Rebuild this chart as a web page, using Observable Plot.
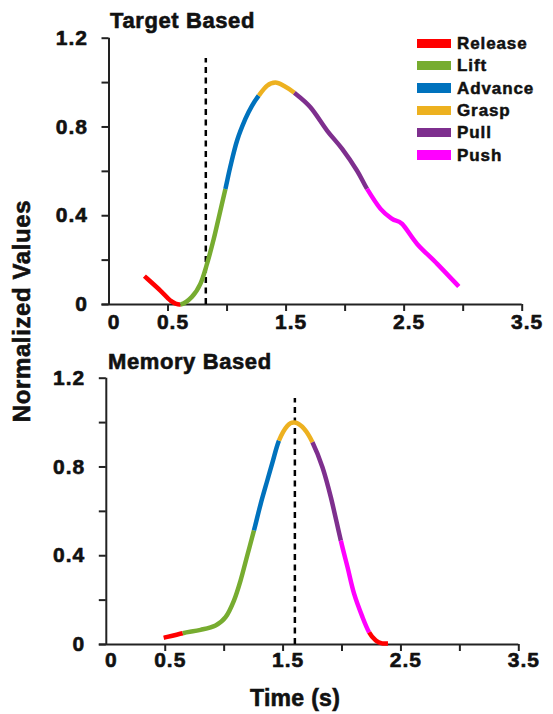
<!DOCTYPE html>
<html><head><meta charset="utf-8">
<script src="https://cdn.jsdelivr.net/npm/d3@7"></script>
<script src="https://cdn.jsdelivr.net/npm/@observablehq/plot@0.6"></script>
<style>
body{margin:0;background:#fff;}
#chart{position:relative;width:553px;height:714px;overflow:hidden;font-family:Arial,"Liberation Sans",Helvetica,sans-serif;font-weight:bold;color:#111;}
#chart svg{position:absolute;left:0;overflow:visible;}
.lbl{position:absolute;white-space:nowrap;line-height:1;-webkit-text-stroke:0.6px #111;}
</style></head><body><div id="chart"></div>
<script>
// ---- data ----
const phases = ["Release", "Lift", "Advance", "Grasp", "Pull", "Push"];
const phaseColors = ["#FF0000", "#77AC30", "#0072BD", "#EDB120", "#7E2F8E", "#FF00FF"];

const targetTitle = "Target Based";
const targetTime  = [0.30,0.435,0.52,0.605, 0.605,0.70,0.774,0.83,0.887,0.929,0.986, 0.986,1.028,1.085,1.155,1.212,1.268, 1.268,1.339,1.409,1.48,1.57, 1.57,1.706,1.847,1.975,2.10,2.186, 2.186,2.30,2.398,2.483,2.61,2.78,2.963];
const targetValue = [0.128,0.063,0.018,0.0, 0.0,0.033,0.093,0.183,0.295,0.39,0.521, 0.521,0.622,0.739,0.836,0.896,0.941, 0.941,0.986,1.0,0.986,0.954, 0.954,0.889,0.784,0.701,0.604,0.521, 0.521,0.431,0.386,0.363,0.273,0.183,0.081];
const targetPhase = ["Release","Release","Release","Release", "Lift","Lift","Lift","Lift","Lift","Lift","Lift", "Advance","Advance","Advance","Advance","Advance","Advance", "Grasp","Grasp","Grasp","Grasp","Grasp", "Pull","Pull","Pull","Pull","Pull","Pull", "Push","Push","Push","Push","Push","Push","Push"];
const targetCue = 0.82;

const memoryTitle = "Memory Based";
const memoryTime  = [0.487,0.649, 0.649,0.80,0.927,1.012,1.083,1.139,1.196,1.253, 1.253,1.31,1.366,1.41,1.465, 1.465,1.537,1.6,1.678,1.749, 1.749,1.834,1.905,1.99, 1.99,2.047,2.103,2.174,2.23, 2.23,2.287,2.34,2.39];
const memoryValue = [0.030,0.051, 0.051,0.066,0.086,0.123,0.198,0.288,0.401,0.514, 0.514,0.634,0.739,0.821,0.919, 0.919,0.986,1.0,0.972,0.911, 0.911,0.799,0.664,0.468, 0.468,0.348,0.228,0.123,0.055, 0.055,0.018,0.005,0.005];
const memoryPhase = ["Release","Release", "Lift","Lift","Lift","Lift","Lift","Lift","Lift","Lift", "Advance","Advance","Advance","Advance","Advance", "Grasp","Grasp","Grasp","Grasp","Grasp", "Pull","Pull","Pull","Pull", "Push","Push","Push","Push","Push", "Release","Release","Release","Release"];
const memoryCue = 1.6;
const cueTop = 1.108;

const xTicks = [0.5, 1, 1.5, 2, 2.5, 3, 3.5];
const xTickLabels = [0, 0.5, 1.5, 2.5, 3.5];
const yTicks = [0, 0.2, 0.4, 0.6, 0.8, 1.0, 1.2];
const yTickLabels = [0, 0.4, 0.8, 1.2];
const xTitle = "Time (s)";
const yTitle = "Normalized Values";

// ---- build ----
// Each coloured segment carries its neighbouring points as control points only,
// so the smooth curve stays continuous across phase boundaries.
function rows(time, value, phase) {
  const path = [], segs = [];
  time.forEach((t, i) => {
    const last = path[path.length - 1];
    const dup = last && last.t === t && last.v === value[i];
    if (!dup) path.push({t, v: value[i]});
    const idx = path.length - 1;
    const s = segs[segs.length - 1];
    if (!s || s.phase !== phase[i]) segs.push({phase: phase[i], start: idx, end: idx});
    else s.end = idx;
  });
  const out = [];
  segs.forEach((s, k) => {
    const pts = [path[Math.max(s.start - 1, 0)]];
    if (s.start === 0) pts[0] = path[0];
    for (let j = s.start; j <= s.end; j++) pts.push(path[j]);
    pts.push(path[Math.min(s.end + 1, path.length - 1)]);
    pts.forEach(p => out.push({t: p.t, v: p.v, phase: s.phase, seg: k}));
  });
  return out;
}

function ControlEnds(context) { this._context = context; }
ControlEnds.prototype = {
  areaStart() { this._line = 0; },
  areaEnd() { this._line = NaN; },
  lineStart() { this._pts = []; },
  point(x, y) { this._pts.push([+x, +y]); },
  lineEnd() {
    const p = this._pts, c = this._context, n = p.length;
    if (n < 3) return;
    c.moveTo(p[1][0], p[1][1]);
    for (let i = 1; i < n - 2; i++) {
      const a = p[i - 1], b = p[i], d = p[i + 1], e = p[i + 2];
      c.bezierCurveTo(
        b[0] + (d[0] - a[0]) / 6, b[1] + (d[1] - a[1]) / 6,
        d[0] - (e[0] - b[0]) / 6, d[1] - (e[1] - b[1]) / 6,
        d[0], d[1]);
    }
  }
};
const controlEnds = context => new ControlEnds(context);

const FONT = 'Arial, "Liberation Sans", Helvetica, sans-serif';
const AXIS = "#222";

function panel({data, cue, height, mt, mb, ml, mr, labelDy}) {
  return Plot.plot({
    width: 553, height,
    marginTop: mt, marginBottom: mb, marginLeft: ml, marginRight: mr,
    x: {domain: [0, 3.5], label: null},
    y: {domain: [0, 1.2], label: null},
    color: {domain: phases, range: phaseColors},
    style: {fontFamily: FONT, background: "transparent", overflow: "visible", letterSpacing: "1px"},
    marks: [
      Plot.axisX(xTicks, {anchor: "bottom", tickSize: 7, strokeWidth: 2, stroke: AXIS, tickFormat: () => "", label: null}),
      Plot.axisY(yTicks, {anchor: "left", tickSize: 7, strokeWidth: 2, stroke: AXIS, tickFormat: () => "", label: null}),
      Plot.ruleY([0], {x1: 0, x2: 3.5, insetLeft: -7, stroke: AXIS, strokeWidth: 2}),
      Plot.ruleX([0], {y1: 0, y2: 1.2, stroke: AXIS, strokeWidth: 2}),
      Plot.text(xTickLabels, {x: d => d, text: d => String(d), frameAnchor: "bottom", dy: labelDy, dx: 5, fontSize: 21, fontWeight: "bold", fill: "#111", stroke: "#111", strokeWidth: 0.6}),
      Plot.text(yTickLabels, {y: d => d, text: d => String(d), frameAnchor: "left", textAnchor: "end", dx: -21, fontSize: 21, fontWeight: "bold", fill: "#111", stroke: "#111", strokeWidth: 0.6}),
      Plot.ruleX([cue], {y1: 0, y2: cueTop, stroke: "#000", strokeWidth: 2.5, strokeDasharray: "6,4.5"}),
      Plot.line(data, {x: "t", y: "v", z: "seg", stroke: "phase", strokeWidth: 4.5, curve: controlEnds, strokeLinecap: "butt"})
    ]
  });
}

const chart = document.getElementById("chart");

const topPanel = panel({data: rows(targetTime, targetValue, targetPhase), cue: targetCue, height: 345, mt: 37.7, mb: 41, ml: 108.5, mr: 31.3, labelDy: 24});
topPanel.style.top = "0px";
chart.appendChild(topPanel);

const bottomPanel = panel({data: rows(memoryTime, memoryValue, memoryPhase), cue: memoryCue, height: 369, mt: 32.7, mb: 70, ml: 105.8, mr: 34.7, labelDy: 22});
bottomPanel.style.top = "345px";
chart.appendChild(bottomPanel);

function label(text, css) {
  const d = document.createElement("div");
  d.className = "lbl";
  d.textContent = text;
  Object.assign(d.style, css);
  chart.appendChild(d);
  return d;
}

label(targetTitle, {left: "110px", top: "10.3px", fontSize: "22px", letterSpacing: "0.6px"});
label(memoryTitle, {left: "108px", top: "350.8px", fontSize: "22px", letterSpacing: "0.6px"});
label(xTitle, {left: "250px", top: "686.5px", fontSize: "23px", letterSpacing: "0.3px"});
label(yTitle, {left: "22px", top: "311px", fontSize: "24px", letterSpacing: "0.6px", transform: "translate(-50%,-50%) rotate(-90deg)"});

// legend
phases.forEach((p, i) => {
  const cy = 43.3 + i * 22.35;
  const sw = document.createElement("div");
  Object.assign(sw.style, {position: "absolute", left: "416.7px", top: (cy - 4.6) + "px", width: "34px", height: "9.3px", background: phaseColors[i]});
  chart.appendChild(sw);
  label(p, {left: "457px", top: (cy - 0.488 * 17) + "px", fontSize: "17px", letterSpacing: "0.9px", webkitTextStroke: "0.5px #111"});
});
</script>
</body></html>
